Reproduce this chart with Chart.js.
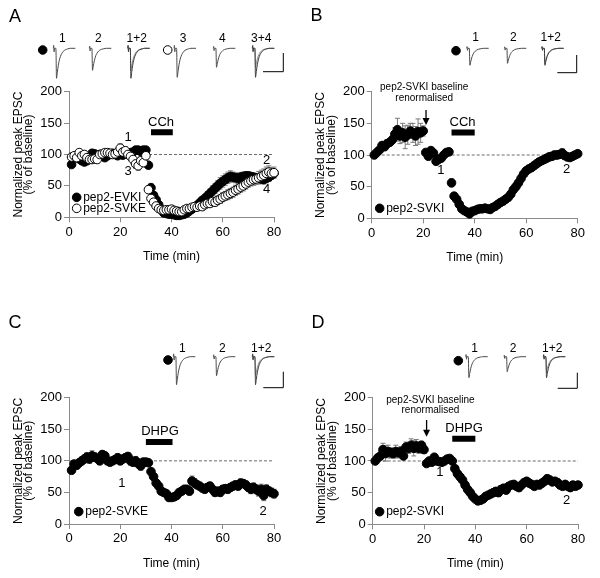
<!DOCTYPE html>
<html>
<head>
<meta charset="utf-8">
<title>pep2 EPSC time course</title>
<script src="https://cdn.jsdelivr.net/npm/chart.js@4.4.1/dist/chart.umd.min.js"></script>
<style>
  html, body { margin: 0; padding: 0; background: #fff; }
  #page { position: relative; width: 600px; height: 578px; overflow: hidden; background: #fff; }
  #page canvas { position: absolute; }
</style>
</head>
<body>
<div id="page"></div>
<script>
Chart.defaults.font.family = "'Liberation Sans', Arial, Helvetica, sans-serif";
Chart.defaults.color = '#000';
Chart.defaults.animation = false;

// Temps (min) : un point par minute
var minutes = Array.from({ length: 80 }, function (_, i) { return i + 1; });
var timeTicks = [0, 20, 40, 60, 80];
var epscTicks = [0, 50, 100, 150, 200];
var baselineLevel = 100;

// A - CCh : pep2-EVKI (plein) / pep2-SVKE (vide)
var evkiA = [84, 95, 97, 93, 90, 88, 90, 95, 102, 101,
  98, 100, 98, 95, 98, 100, 102, 100, 98, 100,
  99, 102, 100, 103, 104, 107, 107, 105, 107, 107,
  83, 47, 35, 28, 20, 12, 7, 6, 5, 5,
  4, 3, 3, 4, 5, 7, 10, 13, 16, 19,
  23, 27, 30, 34, 38, 42, 46, 50, 54, 57,
  60, 63, 65, 64, 63, 62, 64, 65, 66, 66,
  65, 64, 63, 62, 61, 60, 62, 64, 67, 70];
var evkiAErr = [3, 3, 4, 3, 3, 3, 3, 4, 3, 3,
  3, 3, 3, 3, 3, 3, 3, 3, 3, 3,
  3, 3, 3, 3, 4, 4, 3, 3, 3, 3,
  5, 7, 4, 4, 3, 3, 2, 2, 2, 2,
  2, 2, 2, 2, 2, 3, 3, 4, 4, 5,
  5, 6, 6, 7, 7, 8, 8, 8, 9, 9,
  9, 9, 9, 8, 8, 8, 7, 7, 6, 6,
  6, 6, 6, 6, 7, 7, 7, 7, 6, 6];
var svkeA = [96, 98, 95, 103, 98, 100, 95, 92, 92, 93,
  92, 100, 101, 103, 103, 102, 100, 101, 104, 110,
  104, 106, 100, 97, 92, 85, 82, 90, 87, 98,
  44, 30, 24, 18, 14, 12, 11, 12, 12, 13,
  11, 10, 9, 9, 12, 14, 14, 16, 17, 16,
  18, 17, 20, 22, 22, 25, 24, 27, 29, 32,
  34, 36, 38, 40, 43, 45, 48, 50, 53, 56,
  58, 60, 61, 63, 65, 67, 70, 72, 70, 71];
var svkeAErr = [5, 5, 5, 5, 5, 5, 5, 5, 5, 5,
  5, 5, 5, 5, 5, 5, 5, 5, 6, 7,
  6, 6, 6, 6, 7, 7, 7, 6, 6, 6,
  6, 5, 4, 3, 3, 3, 3, 3, 3, 3,
  3, 3, 3, 3, 3, 3, 3, 4, 4, 4,
  4, 5, 5, 5, 6, 6, 6, 7, 7, 7,
  7, 8, 8, 8, 8, 8, 8, 8, 8, 8,
  8, 9, 9, 10, 10, 10, 10, 10, 9, 9];

// B - CCh : pep2-SVKI
var svkiB = [100, 104, 108, 115, 113, 118, 120, 124, 133, 140,
  130, 135, 128, 132, 138, 135, 130, 137, 135, 138,
  104, 98, 107, 103, 90, 93, 95, 100, 104, 105,
  56, 35, 30, 22, 15, 12, 10, 7, 11, 12,
  14, 15, 15, 16, 15, 14, 17, 19, 22, 25,
  27, 30, 33, 38, 45, 50, 56, 63, 70, 75,
  78, 80, 83, 86, 89, 91, 93, 95, 97, 98,
  100, 100, 101, 103, 99, 97, 96, 98, 100, 102];
var svkiBErr = [3, 3, 4, 5, 5, 6, 5, 6, 10, 18,
  12, 15, 18, 15, 12, 15, 15, 20, 15, 8,
  4, 5, 3, 3, 3, 3, 3, 3, 3, 3,
  6, 4, 3, 3, 3, 3, 3, 3, 3, 3,
  3, 3, 3, 3, 3, 3, 3, 3, 3, 4,
  4, 4, 5, 5, 6, 6, 6, 6, 5, 5,
  5, 5, 5, 5, 5, 5, 5, 5, 6, 6,
  6, 6, 6, 7, 6, 6, 5, 5, 5, 5];

// C - DHPG : pep2-SVKE
var svkeC = [85, 95, 93, 97, 100, 103, 106, 103, 108, 106,
  104, 100, 110, 108, 100, 98, 100, 102, 105, 100,
  103, 105, 107, 100, 98, 100, 96, 92, 98, 98,
  97, 83, 75, 65, 60, 52, 50, 48, 42, 42,
  43, 45, 50, 52, 55, 55, 52, 68, 65, 62,
  60, 57, 55, 58, 60, 55, 50, 52, 50, 55,
  56, 55, 58, 60, 62, 60, 65, 64, 62, 58,
  55, 58, 55, 52, 55, 45, 55, 52, 50, 48];
var svkeCErr = [5, 5, 6, 6, 6, 6, 7, 7, 8, 7,
  6, 6, 6, 6, 6, 6, 6, 6, 6, 6,
  6, 6, 6, 7, 7, 7, 7, 7, 6, 6,
  5, 5, 5, 5, 5, 5, 5, 5, 5, 5,
  5, 5, 5, 5, 5, 6, 6, 8, 7, 6,
  6, 6, 6, 6, 6, 6, 6, 6, 6, 6,
  6, 6, 6, 6, 6, 6, 6, 6, 6, 6,
  7, 7, 7, 8, 8, 8, 7, 7, 7, 7];

// D - DHPG : pep2-SVKI
var svkiD = [100, 105, 108, 118, 112, 115, 113, 112, 115, 113,
  115, 108, 122, 120, 125, 120, 124, 120, 125, 118,
  96, 100, 98, 106, 100, 99, 98, 100, 103, 104,
  100, 88, 80, 75, 70, 62, 55, 50, 44, 40,
  37, 38, 40, 44, 46, 48, 50, 52, 50, 55,
  57, 54, 60, 62, 63, 60, 58, 62, 66, 68,
  65, 63, 60, 63, 62, 65, 68, 72, 70, 67,
  68, 66, 62, 60, 63, 60, 58, 62, 60, 62];
var svkiDErr = [4, 5, 6, 10, 12, 10, 8, 8, 10, 8,
  8, 6, 8, 8, 10, 12, 10, 8, 6, 6,
  3, 3, 3, 3, 3, 3, 3, 3, 3, 3,
  3, 5, 6, 6, 6, 6, 5, 5, 4, 4,
  4, 4, 4, 5, 5, 5, 6, 6, 6, 6,
  6, 5, 5, 5, 5, 5, 5, 5, 5, 5,
  5, 5, 5, 5, 5, 5, 5, 6, 6, 5,
  5, 5, 5, 5, 5, 5, 5, 5, 5, 5];

// Fenetres d'application des drogues (min)
var cchA = [32, 40.5];
var cchB = [31, 40];
var dhpgC = [30, 40.4];
var dhpgD = [31, 40];

// Traces EPSC moyennes : forme normalisee + amplitudes (1, 2, 3, 4)
var epscShapeT = [0, 0.4, 0.8, 1.2, 2.6, 3.2, 4, 5, 6, 7, 8.5, 10, 12, 14.5, 17, 22];
var epscShapeI = [0, 0.1, -0.12, 0, 0, -1, -0.8, -0.57, -0.4, -0.28, -0.17, -0.1, -0.05, -0.02, 0, 0];
var traceAmpA = [30, 22, 29, 19];
var traceAmpB = [17, 15];
var traceAmpC = [28, 19];
var traceAmpD = [21, 15];

var page = document.getElementById('page');
function addCanvas(x, y, w, h) {
  var c = document.createElement('canvas');
  c.width = w; c.height = h;
  c.style.left = x + 'px'; c.style.top = y + 'px';
  c.style.width = w + 'px'; c.style.height = h + 'px';
  page.appendChild(c);
  return c;
}

// Barres d'erreur (SEM) sous les points
var errorBarPlugin = {
  id: 'errorBars',
  beforeDatasetsDraw: function (chart) {
    var ctx = chart.ctx;
    chart.data.datasets.forEach(function (ds, i) {
      if (!ds.errors) return;
      var meta = chart.getDatasetMeta(i);
      var ys = chart.scales.y;
      ctx.save();
      ctx.strokeStyle = '#7a7a7a';
      ctx.lineWidth = 1;
      meta.data.forEach(function (pt, j) {
        var v = ds.data[j].y, e = ds.errors[j];
        var top = ys.getPixelForValue(v + e), bot = ys.getPixelForValue(v - e);
        ctx.beginPath();
        ctx.moveTo(pt.x, bot); ctx.lineTo(pt.x, top);
        ctx.moveTo(pt.x - 2.5, top); ctx.lineTo(pt.x + 2.5, top);
        ctx.moveTo(pt.x - 2.5, bot); ctx.lineTo(pt.x + 2.5, bot);
        ctx.stroke();
      });
      ctx.restore();
    });
  }
};

function drawDot(ctx, x, y, open) {
  ctx.beginPath();
  ctx.arc(x, y, 4.3, 0, Math.PI * 2);
  ctx.fillStyle = open ? '#fff' : '#000';
  ctx.fill();
  ctx.lineWidth = 1;
  ctx.strokeStyle = '#000';
  ctx.stroke();
}

// Textes, legendes, fleche
function notesPlugin(p) {
  return {
    id: 'notes',
    afterDatasetsDraw: function (chart) {
      var ctx = chart.ctx, xs = chart.scales.x, ys = chart.scales.y;
      var fam = Chart.defaults.font.family;
      ctx.save();
      ctx.fillStyle = '#000';
      ctx.textBaseline = 'middle';
      ctx.textAlign = 'center';
      ctx.font = '18px ' + fam;
      ctx.fillText(p.letter, p.letterAt[0], p.letterAt[1]);

      ctx.font = '13px ' + fam;
      ctx.fillText(p.drug.name, xs.getPixelForValue(p.drug.labelAt[0]), ys.getPixelForValue(p.drug.labelAt[1]));
      p.marks.forEach(function (m) {
        ctx.fillText(m[2], xs.getPixelForValue(m[0]), ys.getPixelForValue(m[1]));
      });

      p.series.forEach(function (s) {
        var x = xs.getPixelForValue(s.legendAt[0]), y = ys.getPixelForValue(s.legendAt[1]);
        drawDot(ctx, x, y, s.open);
        ctx.fillStyle = '#000';
        ctx.textAlign = 'left';
        ctx.font = '12px ' + fam;
        ctx.fillText(s.label, x + 6.5, y);
      });

      if (p.renorm) {
        var r = p.renorm;
        ctx.textAlign = 'center';
        ctx.font = '10px ' + fam;
        ctx.fillText('pep2-SVKI baseline', xs.getPixelForValue(r.textAt), ys.getPixelForValue(r.line1));
        ctx.fillText('renormalised', xs.getPixelForValue(r.textAt), ys.getPixelForValue(r.line2));
        var ax = xs.getPixelForValue(r.at), y0 = ys.getPixelForValue(r.from), y1 = ys.getPixelForValue(r.to);
        ctx.strokeStyle = '#000';
        ctx.lineWidth = 1.3;
        ctx.beginPath(); ctx.moveTo(ax, y0); ctx.lineTo(ax, y1 - 5); ctx.stroke();
        ctx.beginPath();
        ctx.moveTo(ax - 3.5, y1 - 7); ctx.lineTo(ax + 3.5, y1 - 7); ctx.lineTo(ax, y1);
        ctx.closePath(); ctx.fill();
      }
      ctx.restore();
    }
  };
}

function buildPanel(p) {
  var canvas = addCanvas(p.left, p.top, p.width, p.height);
  var l = p.area.l - p.left, r = p.area.r - p.left, t = p.area.t - p.top, b = p.area.b - p.top;
  var yAxisWidth = 63, xAxisHeight = 52;
  var datasets = [{
    data: [{ x: timeTicks[0], y: baselineLevel }, { x: timeTicks[timeTicks.length - 1], y: baselineLevel }],
    showLine: true, pointRadius: 0, borderColor: '#6a6a6a', borderWidth: 1, borderDash: [3, 2], order: 10
  }, {
    data: [{ x: p.drug.window[0], y: p.drug.level }, { x: p.drug.window[1], y: p.drug.level }],
    showLine: true, pointRadius: 0, borderColor: '#000', borderWidth: 6, borderCapStyle: 'butt', order: 9
  }];
  p.series.forEach(function (s) {
    datasets.push({
      label: s.label,
      data: minutes.map(function (m, i) { return { x: m, y: s.values[i] }; }),
      errors: s.err,
      showLine: false,
      pointRadius: 4.3,
      pointBackgroundColor: s.open ? '#fff' : '#000',
      pointBorderColor: '#000',
      pointBorderWidth: 1,
      order: s.open ? 1 : 2,
      clip: false
    });
  });

  var axisColor = '#8a8a8a';
  new Chart(canvas.getContext('2d'), {
    type: 'scatter',
    data: { datasets: datasets },
    options: {
      responsive: false,
      animation: false,
      events: [],
      layout: { padding: { left: l - yAxisWidth, right: p.width - r, top: t, bottom: p.height - b - xAxisHeight } },
      plugins: { legend: { display: false }, tooltip: { enabled: false } },
      scales: {
        x: {
          type: 'linear', min: timeTicks[0], max: timeTicks[timeTicks.length - 1],
          afterBuildTicks: function (axis) { axis.ticks = timeTicks.map(function (v) { return { value: v }; }); },
          afterFit: function (axis) { axis.height = xAxisHeight; },
          ticks: { color: '#000', font: { size: 13 }, padding: 2, maxRotation: 0 },
          grid: { drawOnChartArea: false, tickLength: 5, color: axisColor },
          border: { color: axisColor },
          title: { display: true, text: 'Time (min)', color: '#000', font: { size: 12 }, padding: { top: 0, bottom: 5 } }
        },
        y: {
          type: 'linear', min: epscTicks[0], max: epscTicks[epscTicks.length - 1],
          afterBuildTicks: function (axis) { axis.ticks = epscTicks.map(function (v) { return { value: v }; }); },
          afterFit: function (axis) { axis.width = yAxisWidth; },
          ticks: { color: '#000', font: { size: 13 }, padding: 2 },
          grid: { drawOnChartArea: false, tickLength: 5, color: axisColor },
          border: { color: axisColor },
          title: {
            display: true, text: ['Normalized peak EPSC', '(% of baseline)'], color: '#000',
            font: { size: 12, lineHeight: 0.88 }, padding: { top: 7, bottom: 0 }
          }
        }
      }
    },
    plugins: [errorBarPlugin, notesPlugin(p)]
  });
}

// Encarts de traces (1 unite = 1 px)
function buildInset(ins) {
  var w = 300, h = 60;
  var canvas = addCanvas(ins.left, ins.top, w, h);
  var base = ins.base;
  var datasets = [];
  var greys = ['#3a3a3a', '#8a8a8a'];
  ins.traces.forEach(function (tr) {
    tr.amps.forEach(function (amp, k) {
      datasets.push({
        data: epscShapeT.map(function (dt, i) { return { x: tr.x + dt, y: epscShapeI[i] * amp }; }),
        showLine: true, pointRadius: 0, borderWidth: 1,
        borderColor: tr.amps.length > 1 ? greys[k] : '#4a4a4a',
        cubicInterpolationMode: 'monotone'
      });
    });
  });
  var sb = ins.scaleBar;
  datasets.push({
    data: [{ x: sb.x0, y: base - sb.yb }, { x: sb.x1, y: base - sb.yb }, { x: sb.x1, y: base - sb.yt }],
    showLine: true, pointRadius: 0, borderWidth: 1, borderColor: '#000'
  });
  new Chart(canvas.getContext('2d'), {
    type: 'scatter',
    data: { datasets: datasets },
    options: {
      responsive: false, animation: false, events: [],
      layout: { padding: 0 },
      plugins: { legend: { display: false }, tooltip: { enabled: false } },
      scales: {
        x: { type: 'linear', display: false, min: 0, max: w },
        y: { type: 'linear', display: false, min: base - h, max: base }
      }
    },
    plugins: [{
      id: 'insetLabels',
      afterDatasetsDraw: function (chart) {
        var ctx = chart.ctx;
        ctx.save();
        ctx.fillStyle = '#000';
        ctx.textAlign = 'center';
        ctx.textBaseline = 'middle';
        ctx.font = '12px ' + Chart.defaults.font.family;
        ins.traces.forEach(function (tr) { ctx.fillText(tr.label, tr.x + 9, ins.labelY); });
        ins.dots.forEach(function (d) { drawDot(ctx, d.x, d.y, d.open); });
        ctx.restore();
      }
    }]
  });
}

var panels = [{
  letter: 'A', letterAt: [15, 17], left: 0, top: 0, width: 300, height: 290,
  area: { l: 69, r: 274, t: 91.7, b: 217.3 },
  series: [
    { label: 'pep2-EVKI', values: evkiA, err: evkiAErr, open: false, legendAt: [3, 31.8] },
    { label: 'pep2-SVKE', values: svkeA, err: svkeAErr, open: true, legendAt: [3, 14.3] }
  ],
  drug: { name: 'CCh', window: cchA, level: 135.5, labelAt: [35.9, 151.7] },
  marks: [[23.1, 127, '1'], [23.1, 72.6, '3'], [77.1, 91, '2'], [77.1, 44.6, '4']]
}, {
  letter: 'B', letterAt: [16.5, 16], left: 300, top: 0, width: 300, height: 290,
  area: { l: 371.7, r: 577.7, t: 91.7, b: 218.3 },
  series: [{ label: 'pep2-SVKI', values: svkiB, err: svkiBErr, open: false, legendAt: [3.1, 15.8] }],
  drug: { name: 'CCh', window: cchB, level: 135.5, labelAt: [35.3, 151] },
  marks: [[26.9, 75, '1'], [75.7, 77, '2']],
  renorm: { textAt: 20.4, line1: 207, line2: 189.6, at: 21.1, from: 171, to: 147.5 }
}, {
  letter: 'C', letterAt: [15, 33], left: 0, top: 290, width: 300, height: 288,
  area: { l: 69, r: 274, t: 397.7, b: 524 },
  series: [{ label: 'pep2-SVKE', values: svkeC, err: svkeCErr, open: false, legendAt: [3.8, 19.6] }],
  drug: { name: 'DHPG', window: dhpgC, level: 130, labelAt: [35.5, 146.8] },
  marks: [[20.6, 65, '1'], [75.8, 19.6, '2']]
}, {
  letter: 'D', letterAt: [18, 33], left: 300, top: 290, width: 300, height: 288,
  area: { l: 372.7, r: 578, t: 397.7, b: 524.3 },
  series: [{ label: 'pep2-SVKI', values: svkiD, err: svkiDErr, open: false, legendAt: [2.7, 19.9] }],
  drug: { name: 'DHPG', window: dhpgD, level: 135, labelAt: [35.6, 151.7] },
  marks: [[26.2, 81.5, '1'], [75.6, 37, '2']],
  renorm: { textAt: 22.5, line1: 196.4, line2: 179.5, at: 21, from: 164.8, to: 138.4 }
}];

var insets = [{
  left: 0, top: 25, base: 23.3, labelY: 13.3,
  traces: [
    { x: 53.3, label: '1', amps: [traceAmpA[0]] },
    { x: 89.3, label: '2', amps: [traceAmpA[1]] },
    { x: 127.7, label: '1+2', amps: [traceAmpA[0], traceAmpA[1]] },
    { x: 174, label: '3', amps: [traceAmpA[2]] },
    { x: 213.3, label: '4', amps: [traceAmpA[3]] },
    { x: 252.3, label: '3+4', amps: [traceAmpA[2], traceAmpA[3]] }
  ],
  dots: [{ x: 42.7, y: 25, open: false }, { x: 167.7, y: 25, open: true }],
  scaleBar: { x0: 263, x1: 283.3, yb: 46.7, yt: 28 }
}, {
  left: 300, top: 25, base: 23.3, labelY: 12.7,
  traces: [
    { x: 166.7, label: '1', amps: [traceAmpB[0]] },
    { x: 204.3, label: '2', amps: [traceAmpB[1]] },
    { x: 241.7, label: '1+2', amps: [traceAmpB[0], traceAmpB[1]] }
  ],
  dots: [{ x: 156, y: 25.7, open: false }],
  scaleBar: { x0: 257.3, x1: 276.7, yb: 47.7, yt: 30 }
}, {
  left: 0, top: 335, base: 21.7, labelY: 13.3,
  traces: [
    { x: 173.3, label: '1', amps: [traceAmpC[0]] },
    { x: 213.3, label: '2', amps: [traceAmpC[1]] },
    { x: 252.3, label: '1+2', amps: [traceAmpC[0], traceAmpC[1]] }
  ],
  dots: [{ x: 168, y: 25, open: false }],
  scaleBar: { x0: 263.3, x1: 283.3, yb: 52.7, yt: 36.7 }
}, {
  left: 300, top: 335, base: 21.7, labelY: 13.3,
  traces: [
    { x: 165.7, label: '1', amps: [traceAmpD[0]] },
    { x: 204, label: '2', amps: [traceAmpD[1]] },
    { x: 243.3, label: '1+2', amps: [traceAmpD[0], traceAmpD[1]] }
  ],
  dots: [{ x: 158.3, y: 25.7, open: false }],
  scaleBar: { x0: 257.7, x1: 277.3, yb: 53.3, yt: 37.7 }
}];

panels.forEach(buildPanel);
insets.forEach(buildInset);
</script>
</body>
</html>
